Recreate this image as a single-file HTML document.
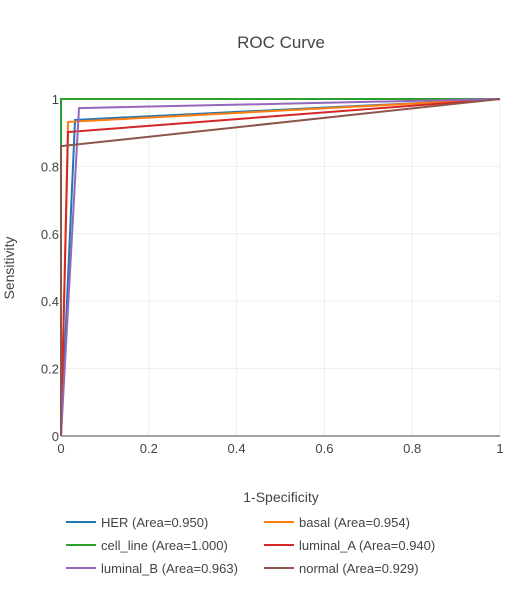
<!DOCTYPE html>
<html><head><meta charset="utf-8"><style>
body{margin:0;background:#fff;font-family:"Liberation Sans",sans-serif;}
svg text{font-family:"Liberation Sans",sans-serif;}
</style></head><body>
<svg id="chart" width="517" height="597">
<text x="281" y="48" text-anchor="middle" font-size="17" fill="#444">ROC Curve</text>
<g id="grid"></g><g id="ticks"></g><g id="series"></g><g id="legend"></g>
<text x="281" y="502" text-anchor="middle" font-size="14" fill="#444">1-Specificity</text>
<text transform="translate(14,268) rotate(-90)" text-anchor="middle" font-size="14" fill="#444">Sensitivity</text>
</svg>
<script>
const seriesNames=["HER","basal","cell_line","luminal_A","luminal_B","normal"];
const seriesAreas=["0.950","0.954","1.000","0.940","0.963","0.929"];
const seriesColors=["#1f77b4","#ff7f0e","#2ca02c","#d62728","#9467bd","#8c564b"];
const fprHER=[0,0.032,1],tprHER=[0,0.938,1];
const fprBasal=[0,0.016,1],tprBasal=[0,0.932,1];
const fprCell=[0,0,1],tprCell=[0,1,1];
const fprLumA=[0,0.016,1],tprLumA=[0,0.902,1];
const fprLumB=[0,0.041,1],tprLumB=[0,0.973,1];
const fprNormal=[0,0,1],tprNormal=[0,0.86,1];
const tickVals=[0,0.2,0.4,0.6,0.8,1];
const tickLabels=["0","0.2","0.4","0.6","0.8","1"];
const X0=61,X1=500,Y0=436,Y1=99;
const sx=v=>X0+v*(X1-X0), sy=v=>Y0-v*(Y0-Y1);
const NS="http://www.w3.org/2000/svg";
function mk(t,a,p){const e=document.createElementNS(NS,t);for(const k in a)e.setAttribute(k,a[k]);p.appendChild(e);return e;}
const grid=document.getElementById('grid'),ticks=document.getElementById('ticks');
tickVals.forEach((v,i)=>{
 const gx=mk('line',{x1:sx(v),x2:sx(v),y1:Y1,y2:Y0,stroke:'#eee'},grid);
 
 
 const gy=mk('line',{x1:X0,x2:X1,y1:sy(v),y2:sy(v),stroke:'#eee'},grid);
 
 
 const tx=mk('text',{x:sx(v),y:Y0+17,'text-anchor':'middle','font-size':13,fill:'#444'},ticks);tx.textContent=tickLabels[i];
 
 
 const ty=mk('text',{x:X0-2,y:sy(v)+5,'text-anchor':'end','font-size':13,fill:'#444'},ticks);ty.textContent=tickLabels[i];
 
 
});
const ax=mk('line',{x1:X0,x2:X1,y1:Y0,y2:Y0,stroke:'#444'},ticks);


const ay=mk('line',{x1:X0,x2:X0,y1:Y0,y2:Y1,stroke:'#444'},ticks);


const data=[[fprHER,tprHER],[fprBasal,tprBasal],[fprCell,tprCell],[fprLumA,tprLumA],[fprLumB,tprLumB],[fprNormal,tprNormal]];
const sg=document.getElementById('series'),lg=document.getElementById('legend');
data.forEach((d,i)=>{
 const pts=d[0].map((f,j)=>sx(f)+','+sy(d[1][j])).join(' ');
 const pl=mk('polyline',{points:pts,fill:'none',stroke:seriesColors[i],'stroke-width':2},sg);
 
 
 const col=i%2,row=Math.floor(i/2);
 const lx=col?264:66,ly=522+row*23;
 const g=mk('g',{},lg);
 
 
 mk('line',{x1:lx,x2:lx+30,y1:ly,y2:ly,stroke:seriesColors[i],'stroke-width':2},g);
 const t=mk('text',{x:lx+35,y:ly+5,'font-size':13,fill:'#444'},g);
 t.textContent=seriesNames[i]+' (Area='+seriesAreas[i]+')';
});
</script>
</body></html>
